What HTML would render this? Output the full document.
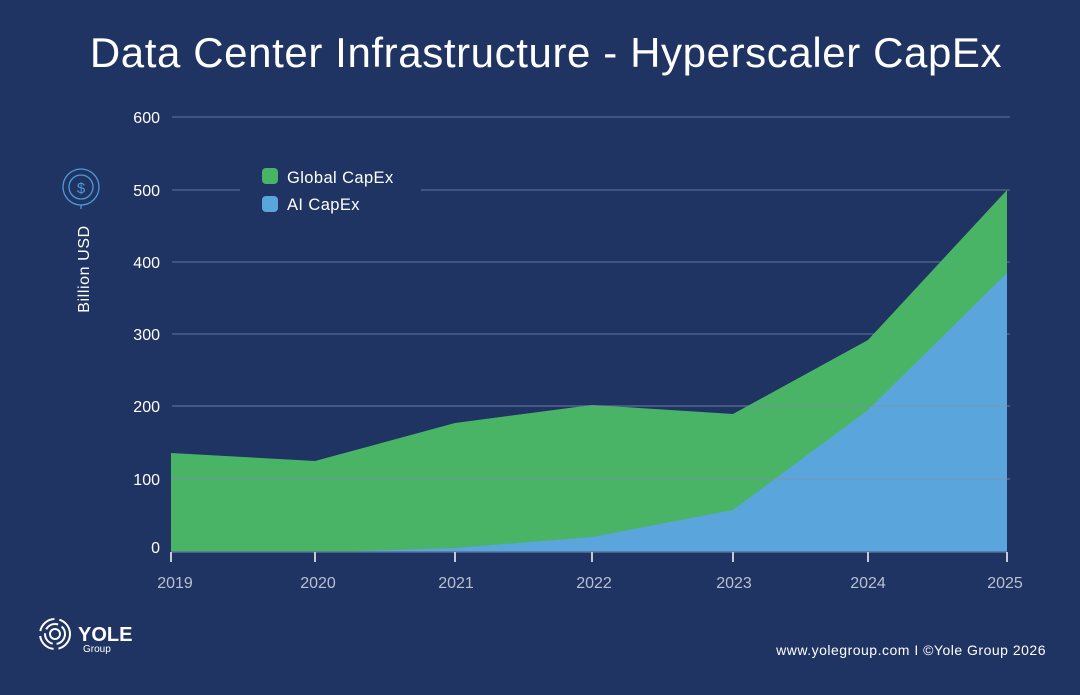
<!DOCTYPE html>
<html><head><style>
body{margin:0;width:1080px;height:690px;background:#1f3462;overflow:hidden;font-family:"Liberation Sans",sans-serif}
</style></head><body>
<svg width="1080" height="690" xmlns="http://www.w3.org/2000/svg" font-family="Liberation Sans, sans-serif">
<rect width="1080" height="690" fill="#1f3462"/>
<text x="546" y="67" fill="#fff" font-size="42" letter-spacing="0.6" text-anchor="middle">Data Center Infrastructure - Hyperscaler CapEx</text>
<g stroke="#4a5f8a" stroke-width="1.5">
<line x1="172" y1="117" x2="1010" y2="117"/>
<line x1="172" y1="190" x2="240" y2="190"/><line x1="421" y1="190" x2="1010" y2="190"/>
<line x1="172" y1="262" x2="1010" y2="262"/>
<line x1="172" y1="334" x2="1010" y2="334"/>
</g>
<polygon fill="#4ab466" points="171,453 315,461 455,423 592,405 733,414 868,340 1007,190 1007,552 171,552"/>
<polygon fill="#5aa5db" points="315,552 360,551 455,548 592,537 733,510 868,410 1007,273 1007,552"/>
<g stroke="#7d8fae" stroke-opacity="0.55" stroke-width="1.5">
<line x1="172" y1="406" x2="1010" y2="406"/>
<line x1="172" y1="479" x2="1010" y2="479"/>
</g>
<line x1="171" y1="552" x2="1007" y2="552" stroke="#5a6f98" stroke-width="1.5"/>
<g stroke="#c5cad6" stroke-width="2">
<line x1="171" y1="552" x2="171" y2="562"/><line x1="315" y1="552" x2="315" y2="562"/><line x1="455" y1="552" x2="455" y2="562"/><line x1="592" y1="552" x2="592" y2="562"/><line x1="733" y1="552" x2="733" y2="562"/><line x1="868" y1="552" x2="868" y2="562"/><line x1="1007" y1="552" x2="1007" y2="562"/>
</g>
<g fill="#fff" font-size="16" text-anchor="end">
<text x="160" y="123">600</text><text x="160" y="196">500</text><text x="160" y="268">400</text><text x="160" y="340">300</text><text x="160" y="412">200</text><text x="160" y="485">100</text><text x="160" y="553">0</text>
</g>
<g fill="#b8c0d2" font-size="16" text-anchor="middle">
<text x="175" y="588">2019</text><text x="318" y="588">2020</text><text x="456" y="588">2021</text><text x="594" y="588">2022</text><text x="734" y="588">2023</text><text x="868" y="588">2024</text><text x="1005" y="588">2025</text>
</g>
<rect x="262" y="168" width="16" height="16" rx="4" fill="#4ab466"/>
<text x="287" y="183" fill="#fff" font-size="16.5" letter-spacing="0.4">Global CapEx</text>
<rect x="262" y="196" width="16" height="16" rx="4" fill="#5aa5db"/>
<text x="287" y="210" fill="#fff" font-size="16.5" letter-spacing="0.4">AI CapEx</text>
<g stroke="#4f9ad6" fill="none" stroke-width="1.3">
<circle cx="81" cy="187" r="18"/><circle cx="81" cy="187" r="12"/><line x1="81" y1="205" x2="81" y2="209"/>
</g>
<text x="81" y="193" fill="#4f9ad6" font-size="15" text-anchor="middle">$</text>
<text transform="translate(89,269) rotate(-90)" fill="#fff" font-size="16" letter-spacing="0.6" text-anchor="middle">Billion USD</text>
<g stroke="#fff" fill="none" stroke-width="2">
<circle cx="55" cy="634" r="15" stroke-dasharray="20 5"/><circle cx="55" cy="634" r="10" stroke-dasharray="14 4"/><circle cx="55" cy="634" r="5"/>
</g>
<text x="78" y="641" fill="#fff" font-size="20" font-weight="bold">YOLE</text>
<text x="83" y="652" fill="#fff" font-size="10">Group</text>
<text x="1046" y="655" fill="#fff" font-size="14" letter-spacing="0.5" text-anchor="end">www.yolegroup.com I ©Yole Group 2026</text>
</svg>
</body></html>
